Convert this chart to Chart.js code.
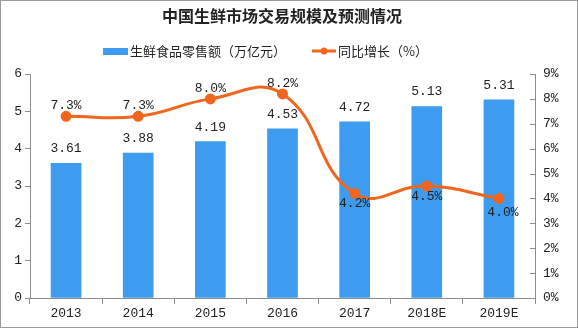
<!DOCTYPE html>
<html><head><meta charset="utf-8">
<script src="https://cdn.jsdelivr.net/npm/chart.js@4"></script>
<style>html,body{margin:0;padding:0;background:#fff}#wrap{width:578px;height:328px;position:relative;box-sizing:border-box;border:1px solid #9a9a9a}</style>
</head><body><div id="wrap"><canvas id="c" width="576" height="326"></canvas></div>
<script>
const categories = ['2013','2014','2015','2016','2017','2018E','2019E'];
const salesValues = [3.61, 3.88, 4.19, 4.53, 4.72, 5.13, 5.31];
const growthValues = [7.3, 7.3, 8.0, 8.2, 4.2, 4.5, 4.0];
const growthLabelBelow = [false, false, false, false, true, true, true];
const titleText = '中国生鲜市场交易规模及预测情况';
const barLegend = '生鲜食品零售额（万亿元）';
const lineLegend = '同比增长（%）';

const BLUE = '#3d9bf0', ORANGE = '#f0661f', AXIS = '#8c8c8c';
const CJK = '"Noto Sans CJK SC", sans-serif';
const MONO = '"Liberation Mono", monospace';

const decor = {
  id: 'decor',
  afterDraw(chart) {
    const ctx = chart.ctx;
    ctx.save();
    ctx.fillStyle = '#222';
    ctx.font = 'bold 16px ' + CJK;
    ctx.textAlign = 'center'; ctx.textBaseline = 'middle';
    ctx.fillText(titleText, 281, 15);
    // legend
    ctx.fillStyle = BLUE; ctx.fillRect(102, 47, 25, 7);
    ctx.fillStyle = '#222'; ctx.font = '13px ' + CJK; ctx.textAlign = 'left';
    ctx.fillText(barLegend, 129, 50);
    ctx.strokeStyle = ORANGE; ctx.lineWidth = 3;
    ctx.beginPath(); ctx.moveTo(311, 50); ctx.lineTo(335, 50); ctx.stroke();
    ctx.fillStyle = ORANGE; ctx.beginPath(); ctx.arc(323, 50, 3.5, 0, Math.PI*2); ctx.fill();
    ctx.fillStyle = '#222'; ctx.fillText(lineLegend, 337, 50);
    // right axis inward ticks
    const y1 = chart.scales.y1;
    ctx.strokeStyle = AXIS; ctx.lineWidth = 1;
    y1.ticks.forEach((t, i) => {
      const y = Math.round(y1.getPixelForTick(i)) + 0.5;
      ctx.beginPath(); ctx.moveTo(y1.left - 5, y); ctx.lineTo(y1.left, y); ctx.stroke();
    });
    // data labels
    ctx.fillStyle = '#222'; ctx.font = '13px ' + MONO; ctx.textAlign = 'center';
    const bm = chart.getDatasetMeta(0);
    bm.data.forEach((el, i) => {
      ctx.textBaseline = 'bottom';
      ctx.fillText(salesValues[i].toFixed(2), el.x, el.y - 8);
    });
    const lm = chart.getDatasetMeta(1);
    lm.data.forEach((el, i) => {
      const txt = growthValues[i].toFixed(1) + '%';
      if (growthLabelBelow[i]) {
        ctx.textBaseline = 'top';
        ctx.fillText(txt, el.x + (i === 6 ? 4 : 0), el.y + (i === 6 ? 8 : 4));
      } else {
        ctx.textBaseline = 'bottom';
        ctx.fillText(txt, el.x, el.y - 4);
      }
    });
    ctx.restore();
  }
};

new Chart(document.getElementById('c'), {
  data: {
    labels: categories,
    datasets: [
      { type: 'bar', data: salesValues, backgroundColor: BLUE, yAxisID: 'y', barThickness: 30, order: 2 },
      { type: 'line', data: growthValues, borderColor: ORANGE, backgroundColor: ORANGE, borderWidth: 3,
        pointRadius: 4, pointHoverRadius: 4, tension: 0.45, yAxisID: 'y1', order: 1 }
    ]
  },
  options: {
    responsive: false, animation: false,
    layout: { padding: { top: 73, left: 0, right: 0, bottom: 0 } },
    plugins: { legend: { display: false }, tooltip: { enabled: false }, title: { display: false } },
    scales: {
      x: {
        grid: { display: true, drawOnChartArea: false, offset: true, tickLength: 6, color: AXIS },
        border: { color: AXIS },
        ticks: { color: '#222', font: { family: MONO, size: 13 }, padding: 2 },
        afterFit(s) { s.height = 29; }
      },
      y: {
        position: 'left', min: 0, max: 6,
        ticks: { stepSize: 1, color: '#222', font: { family: MONO, size: 13 }, padding: 3 },
        grid: { drawOnChartArea: false, tickLength: 5, color: AXIS },
        border: { color: AXIS },
        afterFit(s) { s.width = 29; }
      },
      y1: {
        position: 'right', min: 0, max: 9,
        ticks: { stepSize: 1, color: '#222', font: { family: MONO, size: 13 }, padding: 8,
          callback: v => v + '%' },
        grid: { display: true, drawOnChartArea: false, drawTicks: false, color: AXIS },
        border: { color: AXIS },
        afterFit(s) { s.width = 42; }
      }
    }
  },
  plugins: [decor]
});
</script></body></html>
